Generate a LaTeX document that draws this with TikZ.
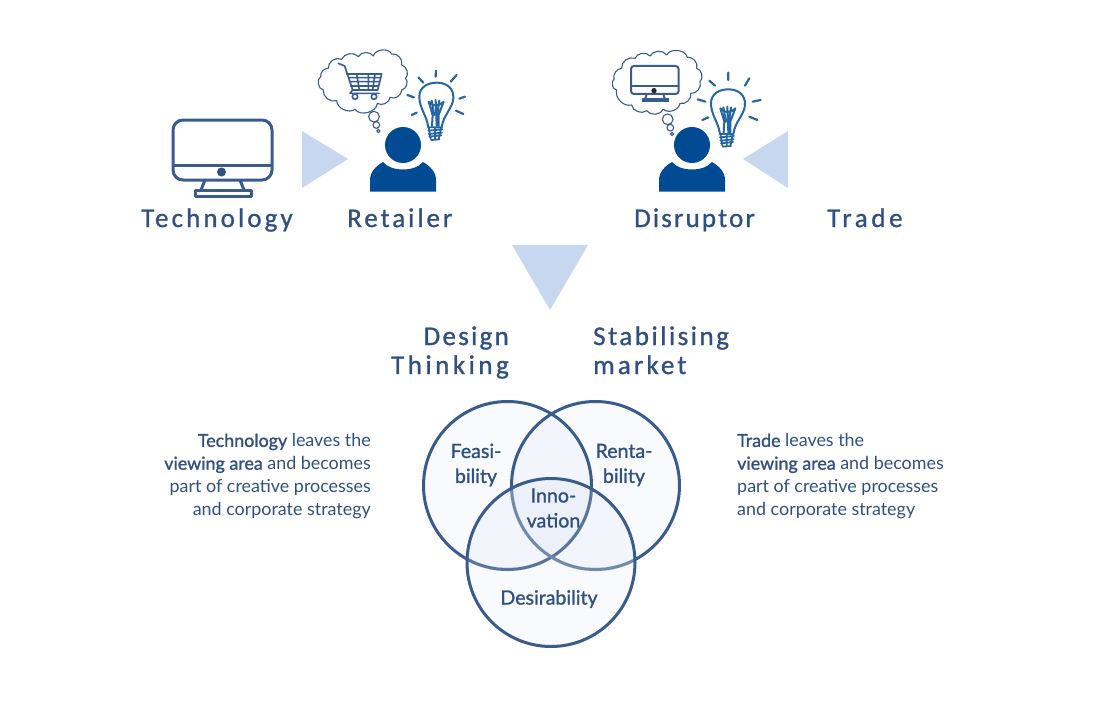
\documentclass[tikz,border=0pt]{standalone}
\usepackage{fontspec}
\setmainfont[BoldFont=Lato,BoldFeatures={FakeBold=1.2}]{Lato}
\newfontfamily\hand[FakeBold=1]{Carlito}
\newcommand{\lbl}[2]{\addfontfeature{LetterSpace=#1}#2}
\definecolor{ink}{HTML}{2F5080}
\definecolor{line}{HTML}{3A5C8C}
\definecolor{iconblue}{HTML}{004B93}
\definecolor{tri}{HTML}{C6D7EF}
\definecolor{venn}{HTML}{C4D4EC}
\tikzset{
  handtext/.style={font=\hand\fontsize{27}{30}\selectfont,text=ink,inner sep=0pt,align=left},
  bodytext/.style={font=\fontsize{17.9}{22.8}\selectfont,text=ink,inner sep=0pt},
  venntext/.style={font=\fontsize{19.6}{25}\selectfont\bfseries,text=ink,inner sep=0pt,align=center},
  vennring/.style={draw=line,line width=3pt},
  sketch/.style={draw=line,line width=1.1pt,line cap=round,line join=round},
  bulbline/.style={draw=iconblue!85!white,line cap=round,line join=round},
  monitor/.style={draw=line,line join=round},
}
\newcommand{\personshape}[1]{%
  \begin{scope}[shift={(#1,0)}]
    \fill[iconblue] (0,145) circle (18);
    \fill[iconblue] (-33,191.5) -- (-33,180) .. controls (-33,172) and (-27,166) .. (-20,162)
      .. controls (-12,172) and (12,172) .. (20,162)
      .. controls (27,166) and (33,172) .. (33,180) -- (33,191.5) -- cycle;
  \end{scope}}
\newcommand{\bulbshape}{%
  \draw[bulbline,line width=2pt] (385,262) .. controls (380,225) and (358,205) .. (358,170)
    .. controls (358,140) and (385,128) .. (410,128)
    .. controls (440,128) and (462,145) .. (460,175)
    .. controls (458,205) and (430,225) .. (425,262);
  \draw[bulbline,line width=1.8pt] (385,262) -- (425,262) (385,272) -- (427,268) (386,282) -- (426,278)
    (388,290) -- (424,286) (394,300) -- (418,298) (386,262) -- (392,296) (424,262) -- (416,298) (405,262) -- (405,298);
  \draw[bulbline,line width=2pt] (386,185) -- (398,225) -- (396,258) (395,182) -- (403,225)
    (407,180) -- (409,225) -- (410,258) (418,182) -- (412,225) (431,185) -- (416,225) -- (416,258)
    (386,185) .. controls (400,200) and (415,200) .. (431,185);
}
\begin{document}
\begin{tikzpicture}[x=1pt,y=-1pt]
\useasboundingbox (0,0) rectangle (1100,720);
% triangles
\fill[tri] (302,131) -- (348,159) -- (302,188) -- cycle;
\fill[tri] (788,131) -- (743,159) -- (788,188) -- cycle;
\fill[tri] (512,245) -- (588,245) -- (550,310) -- cycle;
% big monitor
\draw[monitor,line width=3pt,rounded corners=10pt] (173,120) rectangle (272,180);
\draw[monitor,line width=3pt] (173,165) -- (272,165);
\fill[ink] (221.5,172) circle (4.5);
\draw[monitor,line width=3pt] (205,180) -- (201,190) (240,180) -- (244,190);
\draw[monitor,line width=3pt] (195,190) rectangle (251,196);
% persons
\personshape{403}
\personshape{692}
% cloud 1
\begin{scope}[shift={(300,40)},x=.3333pt,y=-.3333pt]
  \draw[sketch] (85,85) to[bend left=65] (125,58) to[bend left=60] (175,50) to[bend left=60] (220,48)
    to[bend left=70] (275,42) to[bend left=60] (305,75) to[bend left=60] (317,115) to[bend left=60] (305,150)
    to[bend left=60] (270,172) to[bend left=60] (232,190) to[bend left=70] (165,208) to[bend left=60] (110,182)
    to[bend left=60] (70,150) to[bend left=70] (62,110) to[bend left=50] (85,85);
  \draw[sketch] (222,230) circle (16) (229,255) circle (10) (235,273) circle (5);
  % cart
  \draw[draw=line,line width=1.6pt,line join=round,line cap=round] (115,70) -- (134,78) -- (158,150)
    (140,102) -- (245,102) -- (233,150) -- (158,150) (148,125) -- (240,125) (145,113) -- (243,113) (152,138) -- (236,138)
    (170,102) -- (178,150) (205,102) -- (205,150) (225,102) -- (218,150)
    (158,150) -- (150,160) -- (237,160);
  \draw[draw=line,line width=1.6pt] (165,170) circle (8) (222,170) circle (8);
  % bulb 1
  \bulbshape
  \draw[bulbline,line width=2.2pt] (408,92) -- (407,110) (355,112) -- (370,128) (470,105) -- (452,125)
    (322,165) -- (342,172) (335,225) -- (350,218) (495,170) -- (478,176) (490,222) -- (468,212);
\end{scope}
% cloud 2
\begin{scope}[shift={(600,40)},x=.3333pt,y=-.3333pt]
  \draw[sketch] (65,85) to[bend left=60] (105,55) to[bend left=60] (150,48) to[bend left=60] (200,45)
    to[bend left=70] (262,52) to[bend left=60] (290,85) to[bend left=60] (300,125) to[bend left=60] (272,160)
    to[bend left=60] (240,190) to[bend left=60] (190,208) to[bend left=60] (140,212) to[bend left=60] (95,195)
    to[bend left=60] (50,150) to[bend left=70] (42,118) to[bend left=50] (65,85);
  \draw[sketch] (203,238) circle (16) (211,263) circle (10) (216,282) circle (5);
  \draw[monitor,line width=2pt,rounded corners=3pt] (93,78) rectangle (236,162);
  \draw[monitor,line width=2pt] (93,137) -- (236,137);
  \fill[black!85] (162,152) circle (8);
  \draw[monitor,line width=2pt] (140,162) -- (136,176) (190,162) -- (194,176);
  \fill[line] (125,175) rectangle (206,185);
  % bulb 2
  \begin{scope}[shift={(-25,20)}]
    \bulbshape
  \end{scope}
  \draw[bulbline,line width=2.2pt] (385,98) -- (385,120) (328,122) -- (345,137) (448,115) -- (435,137)
    (293,178) -- (316,185) (307,240) -- (325,232) (482,180) -- (458,185) (472,240) -- (448,230);
\end{scope}
% hand labels
\node[handtext,anchor=base west] (technology) at (141,227) {\lbl{11.5}{Technology}};
\node[handtext,anchor=base west] (retailer) at (347,227) {\lbl{11}{Retailer}};
\node[handtext,anchor=base west] (disruptor) at (634,227) {\lbl{8}{Disruptor}};
\node[handtext,anchor=base west] (trade) at (827,227) {\lbl{13.4}{Trade}};
\node[handtext,anchor=base east] (design) at (509,345) {\lbl{8.5}{Design}};
\node[handtext,anchor=base east] (thinking) at (509,374) {\lbl{13}{Thinking}};
\node[handtext,anchor=base west] (stabilising) at (593,345) {\lbl{9.4}{Stabilising}};
\node[handtext,anchor=base west] (market) at (593,374) {\lbl{11.5}{market}};
% venn
\fill[venn,fill opacity=.12] (507.5,485.5) circle (84);
\fill[venn,fill opacity=.12] (595.5,485.5) circle (84);
\fill[venn,fill opacity=.12] (551,562.5) circle (84);
\draw[vennring] (507.5,485.5) circle (84);
\draw[vennring] (595.5,485.5) circle (84);
\begin{scope}
  \clip (551,562.5) circle (84);
  \draw[draw=white,line width=3.4pt] (507.5,485.5) circle (84) (595.5,485.5) circle (84);
  \draw[draw=line!85!white,line width=3pt] (507.5,485.5) circle (84);
  \draw[draw=line!72!white,line width=3pt] (595.5,485.5) circle (84);
\end{scope}
\draw[vennring] (551,562.5) circle (84);
\node[venntext] (feas) at (476,465) {Feasi-\\bility};
\node[venntext] (rent) at (624,465) {Renta-\\bility};
\node[venntext] (inno) at (553.5,508) {Inno-\\vation};
\node[venntext] (desi) at (549,599) {Desirability};
% body
\node[bodytext,align=right,anchor=north east] (ltext) at (371,433.5) {\textbf{Technology} leaves the\\\textbf{viewing area} and becomes\\part of creative processes\\and corporate strategy};
\node[bodytext,align=left,anchor=north west] (rtext) at (737,433.5) {\textbf{Trade} leaves the\\\textbf{viewing area} and becomes\\part of creative processes\\and corporate strategy};
\end{tikzpicture}
\end{document}
